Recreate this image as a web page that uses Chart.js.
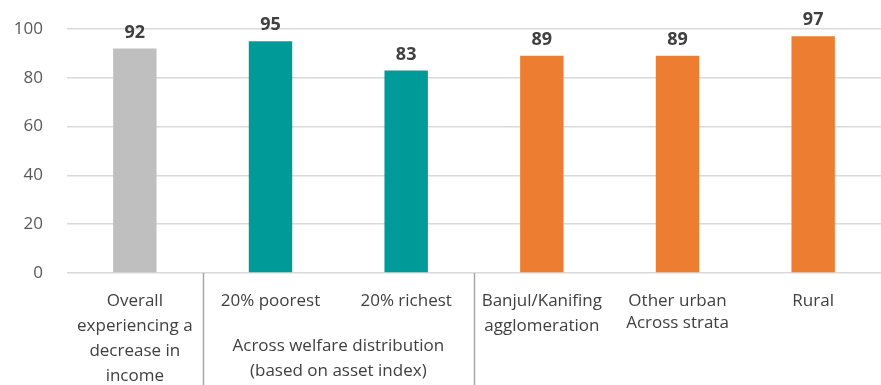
<!DOCTYPE html>
<html>
<head>
<meta charset="utf-8">
<script src="https://cdn.jsdelivr.net/npm/chart.js@4.4.1/dist/chart.umd.min.js"></script>
<style>
  html, body { margin: 0; padding: 0; background: #ffffff; }
  #wrap { width: 881px; height: 385px; position: relative; }
</style>
</head>
<body>
<div id="wrap"><canvas id="chart"></canvas></div>
<script>
// Share of households experiencing a decrease in income (%)
const categories = [
  ["Overall", "experiencing a", "decrease in", "income"],
  ["20% poorest"],
  ["20% richest"],
  ["Banjul/Kanifing", "agglomeration"],
  ["Other urban"],
  ["Rural"]
];
const values = [92, 95, 83, 89, 89, 97];
const barColors = ["#bfbfbf", "#009a99", "#009a99", "#ed7d31", "#ed7d31", "#ed7d31"];
const yTicks = [0, 20, 40, 60, 80, 100];

// Group captions: label, first and last category index
const groups = [
  { lines: ["Across welfare distribution", "(based on asset index)"], from: 1, to: 2, top: 346 },
  { lines: ["Across strata"], from: 3, to: 5, top: 323 }
];
// Separators drawn after these category indices
const separatorsAfter = [0, 2];

const FONT = "'Open Sans', Lato, sans-serif";
const TEXT = "#404040";

const decorations = {
  id: "decorations",
  afterDraw(chart) {
    const ctx = chart.ctx;
    const x = chart.scales.x;
    const area = chart.chartArea;
    ctx.save();
    // vertical separators between groups
    ctx.strokeStyle = "#a6a6a6";
    ctx.lineWidth = 1.5;
    separatorsAfter.forEach(i => {
      const px = Math.round((x.getPixelForValue(i) + x.getPixelForValue(i + 1)) / 2) + 0.5;
      ctx.beginPath();
      ctx.moveTo(px, area.bottom);
      ctx.lineTo(px, chart.height);
      ctx.stroke();
    });
    // group captions
    ctx.fillStyle = TEXT;
    ctx.font = "17px " + FONT;
    ctx.textAlign = "center";
    ctx.textBaseline = "middle";
    groups.forEach(g => {
      const cx = (x.getPixelForValue(g.from) + x.getPixelForValue(g.to)) / 2;
      g.lines.forEach((line, k) => ctx.fillText(line, cx, g.top + k * 25));
    });
    // value labels above bars
    ctx.font = "bold 18px " + FONT;
    ctx.textBaseline = "bottom";
    const meta = chart.getDatasetMeta(0);
    meta.data.forEach((bar, i) => {
      ctx.fillText(String(values[i]), bar.x, bar.y - 7);
    });
    ctx.restore();
  }
};

new Chart(document.getElementById("chart"), {
  type: "bar",
  data: {
    labels: categories,
    datasets: [{
      data: values,
      backgroundColor: barColors,
      barPercentage: 0.32,
      categoryPercentage: 1
    }]
  },
  options: {
    responsive: true,
    maintainAspectRatio: false,
    animation: false,
    layout: { padding: { top: 29, right: 0, left: 0, bottom: 0 } },
    plugins: { legend: { display: false }, tooltip: { enabled: false } },
    scales: {
      x: {
        grid: { display: false, drawTicks: false },
        border: { display: false },
        ticks: {
          color: TEXT,
          font: { family: FONT, size: 17, lineHeight: 1.47 },
          padding: 16,
          maxRotation: 0,
          autoSkip: false
        },
        afterFit(scale) { scale.height = 112; }
      },
      y: {
        min: 0,
        max: 100,
        afterBuildTicks(scale) { scale.ticks = yTicks.map(v => ({ value: v })); },
        // invisible tick marks keep the labels clear of the plot edge
        grid: { color: "#d9d9d9", lineWidth: 1.5, drawTicks: true, tickLength: 20, tickColor: "rgba(0,0,0,0)" },
        border: { display: false },
        ticks: {
          color: "#595959",
          font: { family: FONT, size: 17 },
          padding: 4
        },
        afterFit(scale) { scale.width = 67; }
      }
    }
  },
  plugins: [decorations]
});
</script>
</body>
</html>
